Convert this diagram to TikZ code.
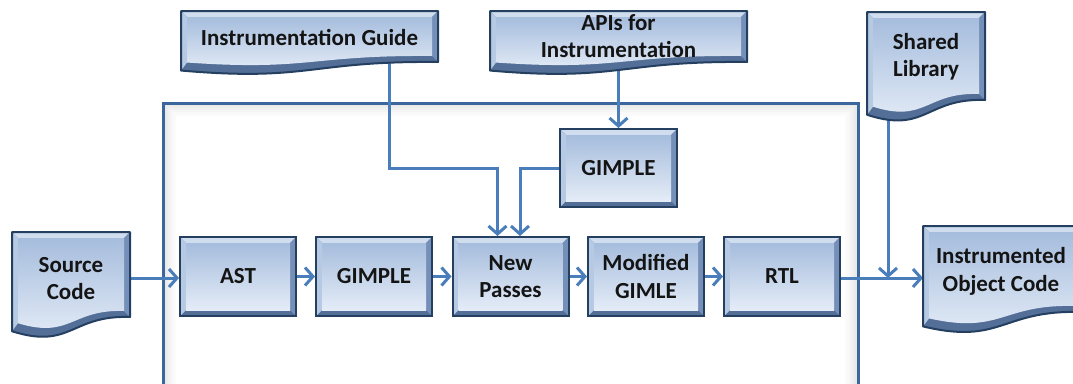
\documentclass[tikz,border=0pt]{standalone}
\usepackage{fontspec}
\setmainfont{Carlito}
\usetikzlibrary{arrows.meta,calc}

\definecolor{bvline}{HTML}{243F60}
\definecolor{bvtop}{HTML}{CFDDEE}
\definecolor{bvleft}{HTML}{B7CAE3}
\definecolor{bvright}{HTML}{7590B8}
\definecolor{bvbot}{HTML}{546F97}
\definecolor{facetop}{HTML}{A6BDDD}
\definecolor{facebot}{HTML}{E4ECF7}
\definecolor{linkblue}{HTML}{4A7EBB}
\definecolor{frameblue}{HTML}{3C679C}

\pgfdeclarelayer{back}
\pgfdeclarelayer{mid}
\pgfsetlayers{back,mid,main}

\tikzset{
  lbl/.style={font=\fontsize{23}{27.5}\selectfont\bfseries, text=black!92, align=center, inner sep=0pt},
  bevelbox/.style={lbl, rectangle, draw=bvline, line width=2pt, fill=bvbot,
    minimum width=116pt, minimum height=79pt,
    path picture={
      \fill[bvtop] let \p1=(path picture bounding box.south west), \p2=(path picture bounding box.north east) in
        (\x1,\y2) -- (\x2,\y2) -- (\x2-6pt,\y2-6pt) -- (\x1+6pt,\y2-6pt) -- cycle;
      \fill[bvleft] let \p1=(path picture bounding box.south west), \p2=(path picture bounding box.north east) in
        (\x1,\y2) -- (\x1+6pt,\y2-6pt) -- (\x1+6pt,\y1+6pt) -- (\x1,\y1) -- cycle;
      \fill[bvright] let \p1=(path picture bounding box.south west), \p2=(path picture bounding box.north east) in
        (\x2,\y2) -- (\x2-6pt,\y2-6pt) -- (\x2-6pt,\y1+6pt) -- (\x2,\y1) -- cycle;
      \shade[top color=facetop, bottom color=facebot] let \p1=(path picture bounding box.south west), \p2=(path picture bounding box.north east) in
        (\x1+6pt,\y1+6pt) rectangle (\x2-6pt,\y2-6pt);
    }},
  arr/.style={draw=linkblue, line width=3pt, -{Straight Barb[length=8pt,width=18pt]}},
}

% document outline: left x, top y, right x, y of the right end of the wavy bottom
\newcommand\docfill[5]{\path[#1] ({#2},{#3}) -- ({#4},{#3}) -- ({#4},{#5})
  .. controls ({((#2)+(#4))/2},{(#3)+0.975*((#5)-(#3))}) and ({((#2)+(#4))/2},{(#3)+1.3875*((#5)-(#3))})
  .. ({#2},{(#3)+1.1675*((#5)-(#3))}) -- cycle;}

% bevelled document shape
\newcommand\docshape[4]{%
  \docfill{fill=bvbot}{#1}{#2}{#3}{#4}
  \fill[bvtop] ({#1},{#2}) -- ({#3},{#2}) -- ({(#3)-6},{(#2)+6}) -- ({(#1)+6},{(#2)+6}) -- cycle;
  \fill[bvleft] ({#1},{#2}) -- ({(#1)+6},{(#2)+6}) -- ({(#1)+6},{(#2)+1.1675*((#4)-(#2))-8}) -- ({#1},{(#2)+1.1675*((#4)-(#2))}) -- cycle;
  \fill[bvright] ({#3},{#2}) -- ({(#3)-6},{(#2)+6}) -- ({(#3)-6},{(#4)-6}) -- ({#3},{#4}) -- cycle;
  \docfill{top color=facetop, bottom color=facebot}{(#1)+6}{(#2)+6}{(#3)-6}{(#4)-6}
  \docfill{draw=bvline, line width=2pt, line join=round}{#1}{#2}{#3}{#4}
}

\begin{document}
\begin{tikzpicture}[x=1pt, y=-1pt]
\useasboundingbox (0,0) rectangle (1073,383);
\clip (0,0) rectangle (1073,383);

% compiler frame, open at the bottom
\begin{pgfonlayer}{back}
  \fill[white] (163,103) rectangle (858,400);
  \foreach \d/\c in {2/9, 4/7, 6/5.5, 8/4, 10/2.5, 12/1.5}
    \draw[black!\c, line width=2.2pt] ({163+\d},400) -- ({163+\d},{103+\d}) -- ({858-\d},{103+\d}) -- ({858-\d},400);
  \draw[frameblue, line width=3pt] (163,400) -- (163,103) -- (858,103) -- (858,400);
\end{pgfonlayer}

% input and output documents
\docshape{181}{11}{438}{62}
\node[lbl] (guide) at (309.5,37.5) {Instrumentation Guide};
\docshape{490}{11}{747}{62}
\node[lbl] (api) at (618.5,36) {APIs for\\Instrumentation};
\docshape{867}{12}{985}{100}
\node[lbl] (shared) at (926,56.5) {Shared\\Library};
\docshape{12}{232}{130}{317}
\node[lbl] (src) at (71,278.5) {Source\\Code};
\docshape{923}{226}{1080}{312}
\node[lbl] (obj) at (1001,271.5) {Instrumented\\Object Code};

% compiler stages
\node[bevelbox] (ast) at (238,276.5) {AST};
\node[bevelbox] (gimple) at (374,276.5) {GIMPLE};
\node[bevelbox] (np) at (510.5,276.5) {New\\Passes};
\node[bevelbox] (mg) at (646,276.5) {Modified\\GIMLE};
\node[bevelbox] (rtl) at (782,276.5) {RTL};
\node[bevelbox, minimum width=117pt, minimum height=78pt] (gim2) at (618.5,168) {GIMPLE};

% ports on the documents
\coordinate (src-out) at (130,278);
\coordinate (guide-out) at (389,62);
\coordinate (api-out) at (618.5,62);
\coordinate (shared-out) at (888,105);
\coordinate (obj-in) at (923,278);

% connectors
\begin{pgfonlayer}{mid}
  \draw[arr] (src-out) -- (src-out -| ast.west);
  \draw[arr] (ast.east) -- (gimple.west);
  \draw[arr] (gimple.east) -- (np.west);
  \draw[arr] (np.east) -- (mg.west);
  \draw[arr] (mg.east) -- (rtl.west);
  \draw[arr] (rtl.east |- obj-in) -- (obj-in);
  \draw[arr] (api-out) -- (gim2.north);
  \draw[arr] (guide-out) |- ($(np.north)+(-13pt,68pt)$) -- ($(np.north)+(-13pt,0pt)$);
  \draw[arr] (gim2.west) -| ($(np.north)+(9.5pt,0pt)$);
  \draw[arr] (shared-out) -- (shared-out |- obj-in);
\end{pgfonlayer}
\end{tikzpicture}
\end{document}
